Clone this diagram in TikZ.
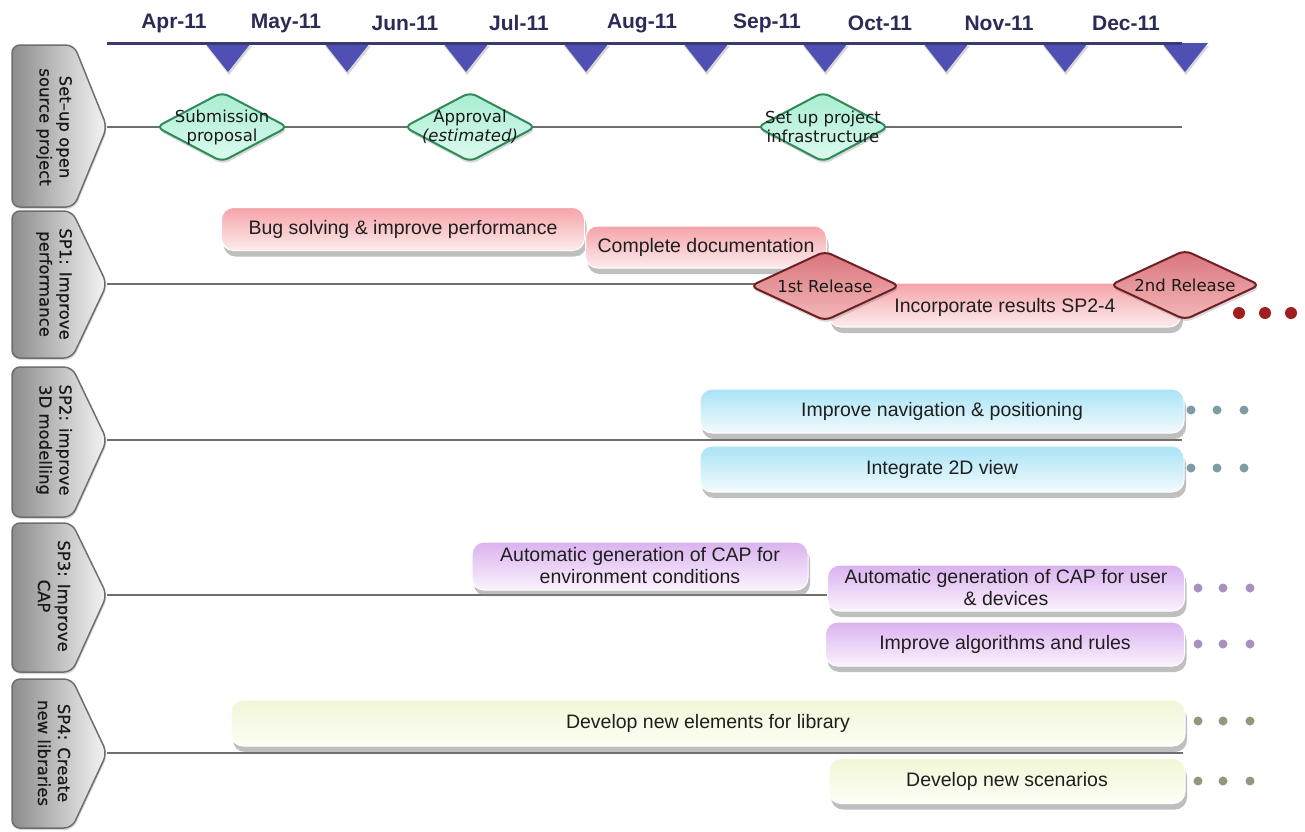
\documentclass[tikz,border=0pt]{standalone}
\usepackage{fontspec}
\setmainfont{Liberation Sans}
\newfontfamily\dvfont{DejaVu Sans}
\newfontfamily\dvtab[FakeBold=0.5]{DejaVu Sans}
\usetikzlibrary{shapes.geometric,shadows}
\definecolor{navy}{HTML}{2B2B55}
\definecolor{tline}{HTML}{3A3A6E}
\definecolor{tri}{HTML}{5050B4}
\definecolor{laneC}{HTML}{6E6E6E}
\definecolor{pinkT}{HTML}{F5A3A9}
\definecolor{pinkB}{HTML}{FDECEC}
\definecolor{blueT}{HTML}{A9E3F6}
\definecolor{blueB}{HTML}{F2FBFE}
\definecolor{purpT}{HTML}{DAB2EF}
\definecolor{purpB}{HTML}{FBF2FD}
\definecolor{yelT}{HTML}{F0F7D6}
\definecolor{yelB}{HTML}{FDFEF6}
\definecolor{grnT}{HTML}{A8EDD2}
\definecolor{grnB}{HTML}{DDFBEF}
\definecolor{grnD}{HTML}{2E8B57}
\definecolor{redT}{HTML}{D9747B}
\definecolor{redB}{HTML}{F3B8BA}
\definecolor{redD}{HTML}{6E2024}
\definecolor{dotR}{HTML}{A01E1E}
\definecolor{dotB}{HTML}{7D9CA3}
\definecolor{dotP}{HTML}{A593BE}
\definecolor{dotY}{HTML}{8E9A7C}
\begin{document}
\begin{tikzpicture}[x=1pt,y=-1pt,
  month/.style={font=\fontsize{21}{25}\selectfont\bfseries, text=navy},
  trishape/.style={fill=tri, drop shadow={shadow xshift=1pt, shadow yshift=-3pt, opacity=0.3}},
  lane/.style={draw=laneC, line width=2pt},
  tabshape/.style={draw=laneC, line width=1.5pt, rounded corners=8pt, left color=black!45, right color=black!4,
     drop shadow={shadow xshift=1pt, shadow yshift=-2pt, opacity=0.3}},
  tabtext/.style={font=\dvtab\fontsize{16.5}{20}\selectfont, text=black!90, align=center, rotate=-90},
  task/.style={rectangle, rounded corners=12pt, inner sep=0pt, draw=white, line width=1pt,
     font=\fontsize{19.5}{22}\selectfont, text=black!88, align=center,
     drop shadow={shadow xshift=2pt, shadow yshift=-6pt, opacity=0.5}},
  pinkbox/.style={task, top color=pinkT, bottom color=pinkB},
  bluebox/.style={task, top color=blueT, bottom color=blueB},
  purpbox/.style={task, top color=purpT, bottom color=purpB},
  yelbox/.style={task, top color=yelT, bottom color=yelB},
  gdiam/.style={diamond, inner sep=0pt, rounded corners=7pt, draw=grnD, line width=2pt,
     top color=grnT, bottom color=grnB, minimum width=132pt, minimum height=70pt,
     drop shadow={shadow xshift=1pt, shadow yshift=-3pt, opacity=0.3}},
  rdiam/.style={diamond, inner sep=0pt, rounded corners=7pt, draw=redD, line width=2pt,
     top color=redT, bottom color=redB, minimum width=150pt, minimum height=70pt,
     drop shadow={shadow xshift=1pt, shadow yshift=-3pt, opacity=0.3}},
  dtext/.style={font=\dvfont\fontsize{16.5}{19}\selectfont, text=black!90, align=center},
]
\useasboundingbox (0,0) rectangle (1305,831);
\fill[white] (0,0) rectangle (1305,831);

% ---- timeline ----
\foreach \x in {228,347,466,586,706,825,946,1065,1185}
  \fill[trishape] (\x-23,43) -- (\x+23,43) -- (\x,72) -- cycle;
\coordinate (ta) at (107,43);
\coordinate (tb) at (1182,43);
\draw[tline, line width=3pt] (ta) -- (tb);
\node[month] (m4) at (174,23) {Apr-11};
\node[month] (m5) at (286,23) {May-11};
\node[month] (m6) at (405,23) {Jun-11};
\node[month] (m7) at (519,23) {Jul-11};
\node[month] (m8) at (642,23) {Aug-11};
\node[month] (m9) at (767,23) {Sep-11};
\node[month] (m10) at (880,23) {Oct-11};
\node[month] (m11) at (999,23) {Nov-11};
\node[month] (m12) at (1126,23) {Dec-11};

% ---- lane tabs ----
\draw[tabshape] (12,45) -- (74,45) -- (107,127) -- (74,207) -- (12,207) -- cycle;
\draw[tabshape] (12,211) -- (72,211) -- (107,284) -- (72,358) -- (12,358) -- cycle;
\draw[tabshape] (12,367) -- (72,367) -- (107,440) -- (72,517) -- (12,517) -- cycle;
\draw[tabshape] (12,523) -- (72,523) -- (107,595) -- (72,672) -- (12,672) -- cycle;
\draw[tabshape] (12,679) -- (72,679) -- (107,753) -- (72,828) -- (12,828) -- cycle;
\node[tabtext] (s0) at (54,127) {Set–up open\\source project};
\node[tabtext] (s1) at (54,284) {SP1: Improve\\performance};
\node[tabtext] (s2) at (54,440) {SP2: improve\\3D modelling};
\node[tabtext] (s3) at (54,596) {SP3: Improve\\CAP};
\node[tabtext] (s4) at (54,753) {SP4: Create\\new libraries};

% ---- lane lines ----
\coordinate (p0) at (107,127); \coordinate (q0) at (1182,127);
\coordinate (p1) at (107,284); \coordinate (q1) at (1182,284);
\coordinate (p2) at (107,440); \coordinate (q2) at (1182,440);
\coordinate (p3) at (107,595); \coordinate (q3) at (900,595);
\coordinate (p4) at (107,753); \coordinate (q4) at (1183,753);
\draw[lane] (p0) -- (q0);
\draw[lane] (p1) -- (q1);
\draw[lane] (p2) -- (q2);
\draw[lane] (p3) -- (q3);
\draw[lane] (p4) -- (q4);

% ---- lane 0 milestones ----
\node[gdiam] (g1) at (222,127) {};
\node[dtext] (g1t) at (g1) {Submission\\proposal};
\node[gdiam] (g2) at (470,127) {};
\node[dtext] (g2t) at (g2) {Approval\\\textit{(estimated)}};
\node[gdiam] (g3) at (823,127) {};
\node[dtext] (g3t) at (g3) {Set up project\\infrastructure};

% ---- lane 1 ----
\node[pinkbox, minimum width=363pt, minimum height=43pt] (b1) at (403,229) {Bug solving \& improve performance};
\node[pinkbox, minimum width=241pt, minimum height=42pt] (b2) at (706,247) {Complete documentation};
\node[pinkbox, minimum width=352pt, minimum height=44pt, text depth=0pt] (b3) at (1005,305) {\raisebox{-1pt}{Incorporate results SP2-4}};
\node[rdiam] (r1) at (825,286) {};
\node[dtext] (r1t) at (r1) {1st Release};
\node[rdiam] (r2) at (1185,285) {};
\node[dtext] (r2t) at (r2) {2nd Release};
\foreach \x in {1239,1265,1291} \fill[dotR] (\x,313) circle (6pt);

% ---- lane 2 ----
\node[bluebox, minimum width=484pt, minimum height=44pt] (c1) at (942,411) {Improve navigation \& positioning};
\node[bluebox, minimum width=484pt, minimum height=46pt] (c2) at (942,469) {Integrate 2D view};
\foreach \x in {1191,1217,1244} {\fill[dotB] (\x,410) circle (4.5pt); \fill[dotB] (\x,468) circle (4.5pt);}

% ---- lane 3 ----
\node[purpbox, minimum width=336pt, minimum height=48pt] (d1) at (640,566) {Automatic generation of CAP for\\environment conditions};
\node[purpbox, minimum width=357pt, minimum height=46pt] (d2) at (1006,588) {Automatic generation of CAP for user\\\& devices};
\node[purpbox, minimum width=359pt, minimum height=44pt] (d3) at (1005,644) {Improve algorithms and rules};
\foreach \x in {1198,1223,1250} {\fill[dotP] (\x,588) circle (4.5pt); \fill[dotP] (\x,644) circle (4.5pt);}

% ---- lane 4 ----
\node[yelbox, minimum width=954pt, minimum height=46pt] (e1) at (708,723) {Develop new elements for library};
\node[yelbox, minimum width=356pt, minimum height=45pt] (e2) at (1007,781) {Develop new scenarios};
\foreach \x in {1198,1223,1250} {\fill[dotY] (\x,721) circle (4.5pt); \fill[dotY] (\x,781) circle (4.5pt);}
\end{tikzpicture}
\end{document}
